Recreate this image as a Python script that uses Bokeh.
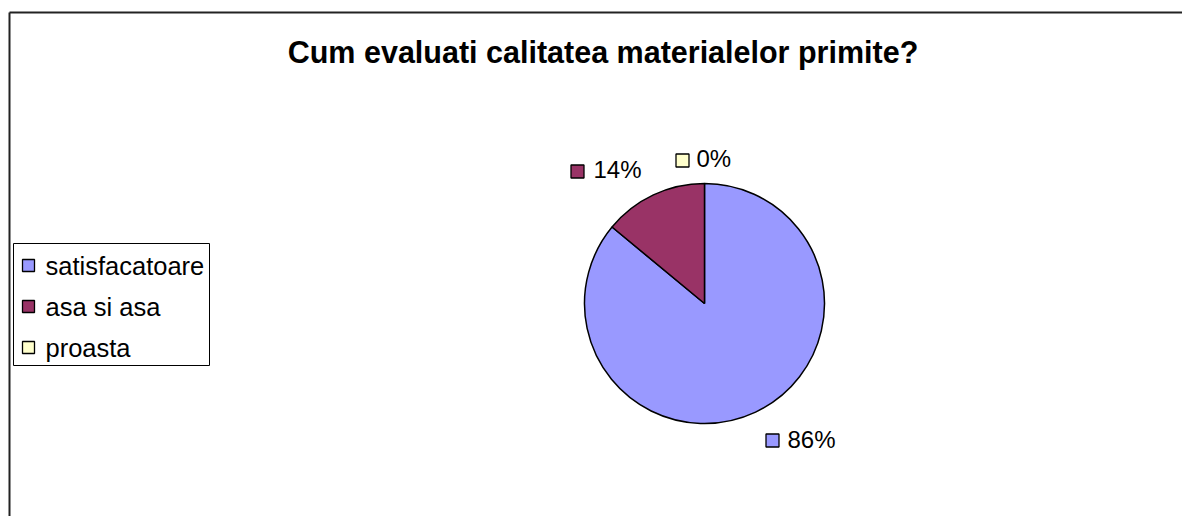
import numpy as np
from bokeh.plotting import figure
from bokeh.models import Range1d, ColumnDataSource
from bokeh.core.properties import value
from bokeh.embed import file_html
from bokeh.resources import INLINE

# ---- data ----
title_text = "Cum evaluati calitatea materialelor primite?"
categories = ["satisfacatoare", "asa si asa", "proasta"]
percentages = [86, 14, 0]
colors = ["#9999FF", "#993366", "#FFFFCC"]

# ---- layout (page pixel coordinates) ----
W, H = 1182, 516
FONT = value("Liberation Sans")


def X(px):
    return px


def Y(py):
    return H - py


pie_cx, pie_cy, pie_r = 704, 303, 120
# per category: marker centre (px, py), text start px, text centre py
label_layout = [
    (772, 440, 787, 439),
    (577, 171, 593, 169),
    (682, 160, 696, 158),
]
legend_box = (13, 243, 209, 365)
legend_marker_x, legend_text_x = 28, 45
legend_rows_py = [265, 306, 347]

p = figure(width=W, height=H, x_range=Range1d(0, W), y_range=Range1d(0, H),
           output_backend="svg", toolbar_location=None, min_border=0)
p.axis.visible = False
p.grid.visible = False
p.outline_line_color = None
p.background_fill_color = "white"
p.border_fill_color = "white"

# chart frame (top and left edges visible)
p.segment(x0=[X(8) + 1, X(8) + 1], y0=[Y(12), Y(12)], x1=[W, X(8) + 1], y1=[Y(12), 0],
          line_color="#222222", line_width=2, line_cap="butt")

# title
p.text(x=[X(602.5)], y=[Y(51)], text=[title_text], text_font=FONT, text_font_style="bold",
       text_font_size="30.5px", text_align="center", text_baseline="middle", text_color="black")

# pie
vals = np.array(percentages, dtype=float)
fracs = vals / vals.sum()
cum = np.concatenate([[0.0], np.cumsum(fracs)])
start = np.pi / 2 - 2 * np.pi * cum[:-1]
end = np.pi / 2 - 2 * np.pi * cum[1:]
keep = vals > 0
src = ColumnDataSource(dict(start=start[keep], end=end[keep], color=np.array(colors)[keep]))
p.wedge(x=X(pie_cx), y=Y(pie_cy), radius=pie_r, start_angle="start", end_angle="end",
        direction="clock", fill_color="color", line_color="black", line_width=1.5, source=src)

# data labels
lab = ColumnDataSource(dict(
    mx=[X(l[0]) for l in label_layout], my=[Y(l[1]) for l in label_layout],
    tx=[X(l[2]) for l in label_layout], ty=[Y(l[3]) for l in label_layout],
    text=[f"{v:g}%" for v in percentages], color=colors))
p.scatter(x="mx", y="my", marker="square", size=13, fill_color="color", line_color="black",
          line_width=1.3, source=lab)
p.text(x="tx", y="ty", text="text", text_font=FONT, text_font_size="24px",
       text_baseline="middle", text_align="left", text_color="black", source=lab)

# legend
lx0, ly0, lx1, ly1 = legend_box
p.quad(left=[X(lx0)], right=[X(lx1)], top=[Y(ly0)], bottom=[Y(ly1)], fill_color="white",
       line_color="black", line_width=1)
leg = ColumnDataSource(dict(
    mx=[X(legend_marker_x)] * len(categories), my=[Y(py) for py in legend_rows_py],
    tx=[X(legend_text_x)] * len(categories), ty=[Y(py) for py in legend_rows_py],
    text=categories, color=colors))
p.scatter(x="mx", y="my", marker="square", size=12, fill_color="color", line_color="black",
          line_width=1.3, source=leg)
p.text(x="tx", y="ty", text="text", text_font=FONT, text_font_size="25.5px",
       text_baseline="middle", text_align="left", text_color="black", source=leg)

open("out.html", "w").write(file_html(p, INLINE))
